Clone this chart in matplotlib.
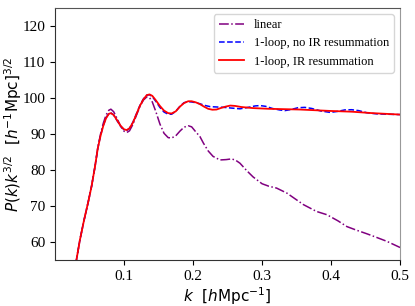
import matplotlib
matplotlib.use("Agg")
import matplotlib.pyplot as plt

plt.rcParams['font.family'] = ['Liberation Serif', 'DejaVu Serif']
plt.rcParams['mathtext.fontset'] = 'dejavusans'

k_ir = [0.029, 0.0314, 0.036, 0.042, 0.048, 0.053, 0.058, 0.062, 0.066, 0.070, 0.074, 0.078,
        0.081, 0.085, 0.090, 0.095, 0.100, 0.104, 0.108, 0.113, 0.118, 0.123, 0.128,
        0.133, 0.137, 0.141, 0.146, 0.152, 0.158, 0.164, 0.169, 0.175, 0.181, 0.187,
        0.193, 0.198, 0.204, 0.210, 0.216, 0.222, 0.228, 0.234, 0.240, 0.247, 0.254,
        0.261, 0.270, 0.287, 0.310, 0.355, 0.400, 0.430, 0.460, 0.500]
p_ir = [52.5, 55.4, 60.5, 66.0, 71.0, 75.5, 81.0, 86.0, 89.5, 92.3, 94.4, 95.6,
        95.8, 95.3, 93.8, 92.3, 91.3, 91.1, 91.6, 93.2, 95.5, 97.8, 99.6,
        100.8, 101.0, 100.6, 99.4, 97.8, 96.5, 95.8, 95.7, 96.3, 97.6, 98.6,
        99.1, 99.1, 98.8, 98.3, 97.6, 97.0, 96.75, 96.8, 97.2, 97.6, 97.9,
        97.8, 97.5, 97.2, 97.0, 96.8, 96.4, 96.2, 95.8, 95.4]

k_noir = [0.029, 0.0314, 0.036, 0.042, 0.048, 0.053, 0.058, 0.062, 0.066, 0.070, 0.074, 0.078,
          0.081, 0.085, 0.090, 0.095, 0.100, 0.104, 0.108, 0.113, 0.118, 0.123, 0.128,
          0.133, 0.137, 0.141, 0.146, 0.152, 0.158, 0.164, 0.169, 0.175, 0.181, 0.187,
          0.193, 0.198, 0.204, 0.210, 0.218, 0.225, 0.235, 0.245, 0.256, 0.268, 0.280,
          0.290, 0.297, 0.305, 0.315, 0.325, 0.333, 0.342, 0.352, 0.362, 0.372, 0.385,
          0.399, 0.410, 0.420, 0.430, 0.440, 0.452, 0.466, 0.480, 0.500]
p_noir = [52.5, 55.4, 60.5, 66.0, 71.0, 75.5, 81.0, 86.0, 89.6, 92.4, 94.5, 95.7,
          95.9, 95.3, 93.7, 92.2, 91.2, 91.0, 91.6, 93.3, 95.6, 97.9, 99.7,
          100.8, 100.9, 100.4, 99.1, 97.4, 96.1, 95.5, 95.5, 96.3, 97.7, 98.7,
          99.0, 98.9, 98.7, 98.4, 97.9, 97.6, 97.5, 97.4, 97.2, 97.0, 97.4,
          97.8, 97.9, 97.7, 97.1, 96.7, 96.5, 96.8, 97.3, 97.4, 97.1, 96.4,
          96.0, 96.3, 96.7, 96.75, 96.5, 95.9, 95.6, 95.5, 95.4]

k_lin = [0.029, 0.0314, 0.036, 0.042, 0.048, 0.053, 0.058, 0.062, 0.066, 0.070, 0.074, 0.078,
         0.081, 0.085, 0.090, 0.095, 0.100, 0.104, 0.108, 0.113, 0.118, 0.123, 0.128,
         0.133, 0.137, 0.141, 0.146, 0.152, 0.158, 0.164, 0.169, 0.175, 0.181, 0.187,
         0.193, 0.198, 0.204, 0.210, 0.215, 0.222, 0.229, 0.239, 0.248, 0.256, 0.262,
         0.268, 0.278, 0.287, 0.300, 0.310, 0.321, 0.336, 0.348, 0.360, 0.379, 0.394,
         0.410, 0.423, 0.437, 0.452, 0.466, 0.481, 0.500]
p_lin = [52.5, 55.4, 60.5, 66.0, 71.0, 75.5, 81.0, 86.2, 90.0, 93.0, 95.3, 96.6,
         96.9, 96.2, 94.3, 92.2, 90.8, 90.4, 90.9, 92.7, 95.2, 97.6, 99.4,
         100.3, 100.1, 98.9, 96.3, 92.8, 90.2, 89.0, 88.9, 89.5, 90.8, 91.9,
         92.3, 92.0, 90.6, 89.3, 87.5, 85.3, 83.8, 82.8, 82.9, 83.1, 82.7,
         81.9, 79.8, 78.1, 76.2, 75.5, 75.0, 73.6, 72.0, 70.4, 68.5, 67.6,
         65.9, 64.3, 63.3, 62.3, 61.3, 60.2, 58.5]

fig = plt.figure(figsize=(4.15, 3.06), dpi=100)
ax = fig.add_axes([0.1325, 0.150, 0.8315, 0.824])

ax.plot(k_lin, p_lin, color='purple', ls='-.', lw=1.1, label='linear')
ax.plot(k_noir, p_noir, color='blue', ls='--', lw=1.1, label='1-loop, no IR resummation')
ax.plot(k_ir, p_ir, color='red', ls='-', lw=1.3, label='1-loop, IR resummation')

ax.set_xlim(0, 0.5)
ax.set_ylim(55, 125)
ax.set_xticks([0.1, 0.2, 0.3, 0.4, 0.5])
ax.set_yticks([60, 70, 80, 90, 100, 110, 120])
ax.tick_params(labelsize=11)

ax.set_xlabel(r'$k\ \ [h\mathrm{Mpc}^{-1}]$', fontsize=11, labelpad=2)
ax.set_ylabel(r'$P(k)k^{3/2}\ \ [h^{-1}\mathrm{Mpc}]^{3/2}$', fontsize=11)
ax.yaxis.set_label_coords(-0.09, 0.5)

ax.spines['left'].set_color('#333333')
ax.spines['bottom'].set_color('#333333')
ax.spines['top'].set_color('#555555')
ax.spines['right'].set_color('#999999')

ax.legend(loc='upper right', fontsize=9)

fig.savefig('out.png', dpi=100)
